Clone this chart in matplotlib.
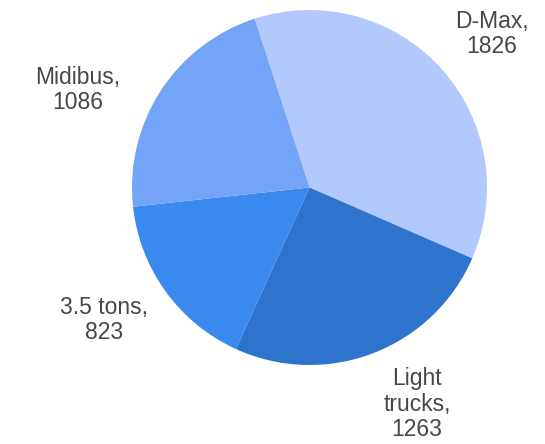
import matplotlib.pyplot as plt

categories = ["D-Max", "Light trucks", "3.5 tons", "Midibus"]
values = [1826, 1263, 823, 1086]
label_text = ["D-Max,\n1826", "Light\ntrucks,\n1263", "3.5 tons,\n823", "Midibus,\n1086"]
colors = ["#b3c8fd", "#2e74cd", "#3a89ee", "#73a4f7"]

# label anchor points in pixel coords (x, y from top)
label_pos = [(492, 34), (417, 404), (104, 320), (78, 90)]

W, H = 545, 444
fig = plt.figure(figsize=(W / 100, H / 100), dpi=100)
ax = fig.add_axes([0, 0, 1, 1])

cx, cy, r = 309.5, 187.5, 177.5
ax.pie(values, colors=colors, startangle=108, counterclock=False,
       center=(cx, H - cy), radius=r, frame=True,
       wedgeprops=dict(linewidth=0))

for txt, (px, py) in zip(label_text, label_pos):
    ax.text(px, H - py, txt, ha="center", va="center", fontsize=16.5,
            color="#474747", family="Liberation Sans", linespacing=1.12)

ax.set_xlim(0, W)
ax.set_ylim(0, H)
ax.set_aspect("equal")
ax.axis("off")

plt.savefig("out.png", dpi=100)
